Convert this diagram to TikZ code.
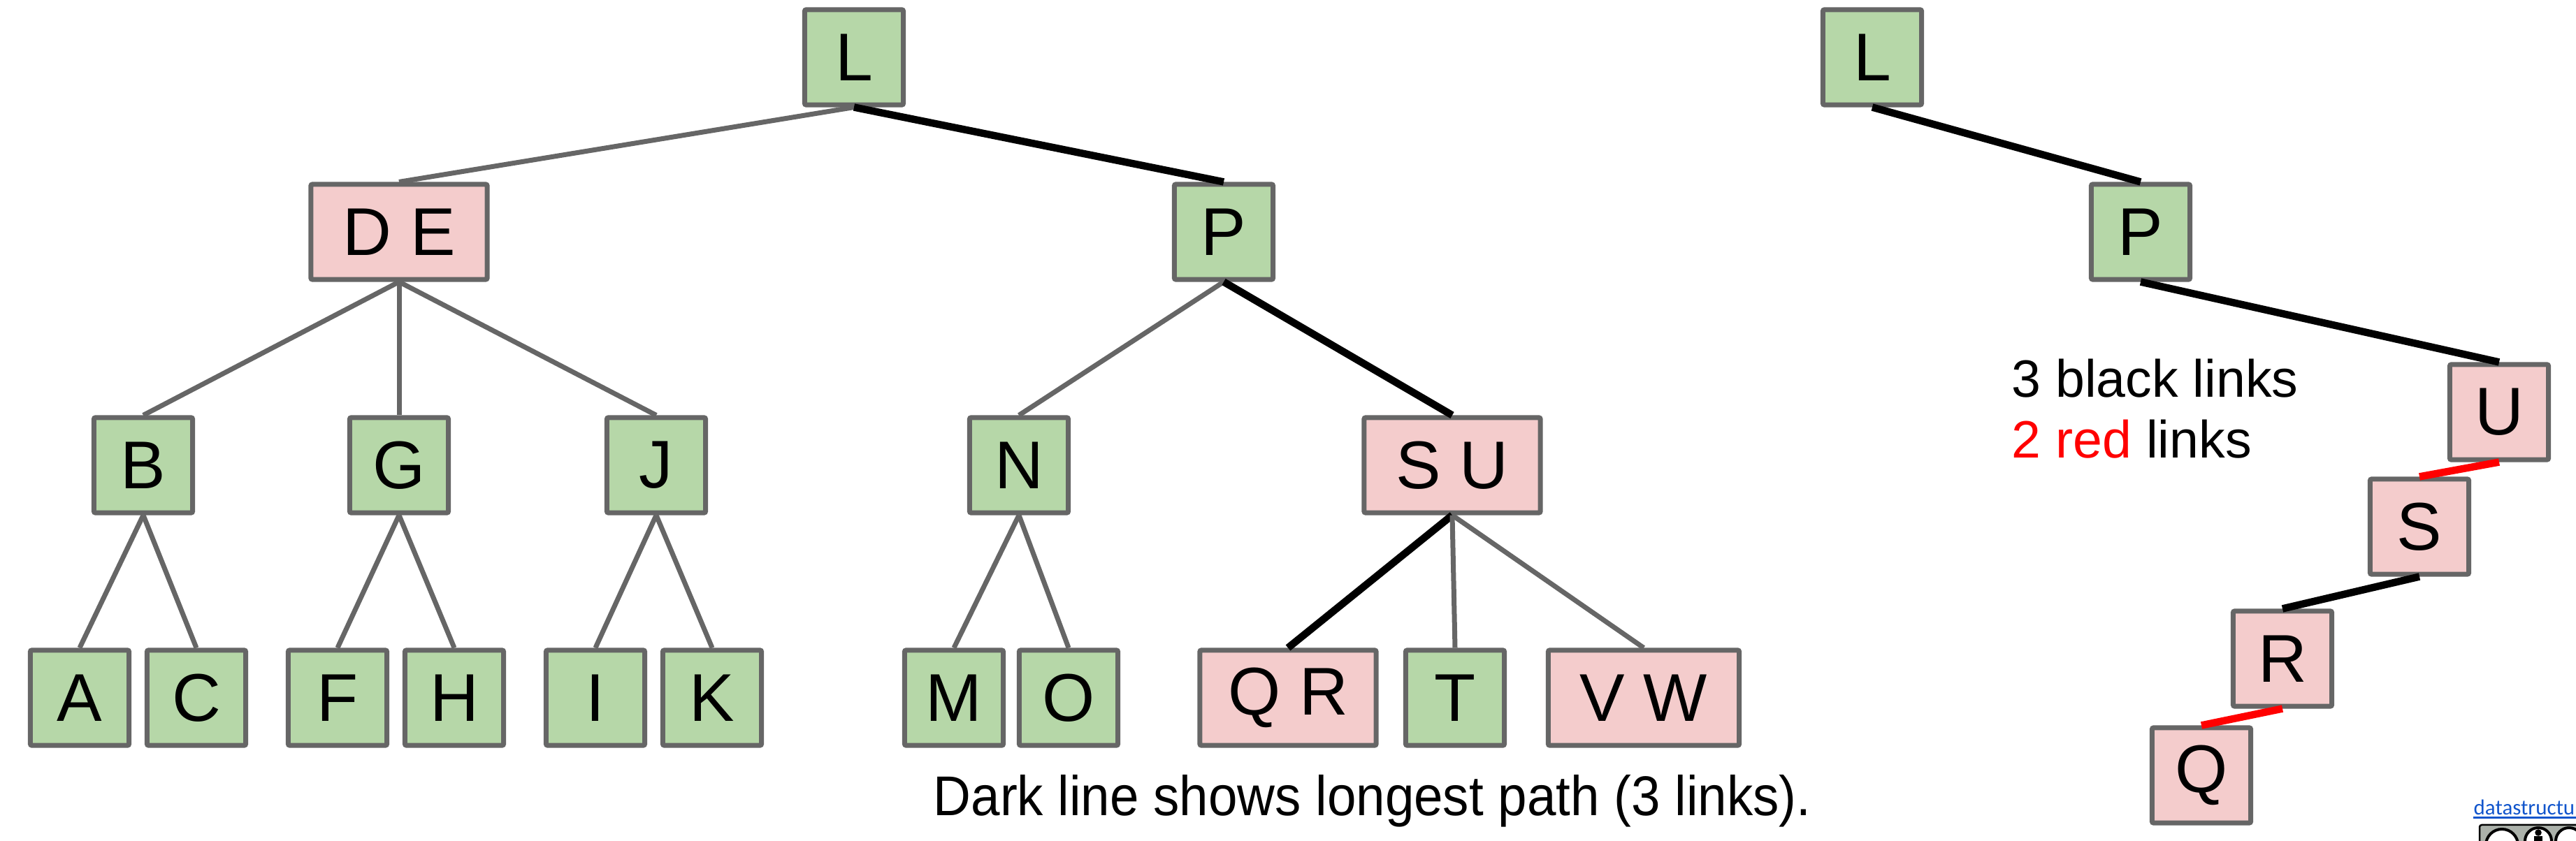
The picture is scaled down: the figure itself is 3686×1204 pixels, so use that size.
\documentclass[tikz,border=0pt]{standalone}
\usepackage{fontspec}
\setmainfont{Liberation Sans}
\newfontfamily\linkfont{Carlito}
\usetikzlibrary{calc}
\definecolor{keygreen}{HTML}{B6D7A8}
\definecolor{keypink}{HTML}{F4CCCC}
\definecolor{edgegray}{HTML}{666666}
\definecolor{linkblue}{HTML}{1155CC}
\definecolor{ccgray}{HTML}{ABB1AA}

\begin{document}
\begin{tikzpicture}[x=0.01cm, y=-0.01cm,
		keybox/.style={draw=edgegray, line width=0.07cm, rounded corners=0.02cm, minimum width=1.41cm, minimum height=1.36cm, inner sep=0pt, font=\fontsize{27.5}{30}\selectfont},
		greenkey/.style={keybox, fill=keygreen},
		pinkkey/.style={keybox, fill=keypink},
		widekey/.style={minimum width=2.52cm},
		grayedge/.style={edgegray, line width=0.07cm},
		darkedge/.style={black, line width=0.105cm},
		rededge/.style={red, line width=0.105cm},
		notetext/.style={anchor=base west, inner sep=0pt, font=\fontsize{21.4}{25}\selectfont}]
		%%%%% START %%%%%
		
		\useasboundingbox (0,0) rectangle (3686,1204);
		\clip (0,0) rectangle (3686,1204);
		
		%%%%% 2-3-4 TREE %%%%%
		\node[greenkey] (L) at (1222, 82) {L};
		
		\node[pinkkey, widekey] (DE) at (571, 332) {D E};
		\node[greenkey] (P) at (1751, 332) {P};
		
		\node[greenkey] (B) at (205, 666) {B};
		\node[greenkey] (G) at (571, 666) {G};
		\node[greenkey] (J) at (939, 666) {J};
		\node[greenkey] (N) at (1458, 666) {N};
		\node[pinkkey, widekey] (SU) at (2078, 666) {S U};
		
		\node[greenkey] (A) at (114, 999) {A};
		\node[greenkey] (C) at (281, 999) {C};
		\node[greenkey] (F) at (483, 999) {F};
		\node[greenkey] (H) at (650, 999) {H};
		\node[greenkey] (I) at (852, 999) {I};
		\node[greenkey] (K) at (1019, 999) {K};
		\node[greenkey] (M) at (1365, 999) {M};
		\node[greenkey] (O) at (1529, 999) {O};
		\node[pinkkey, widekey] (QR) at (1843, 999) {Q R};
		\node[greenkey] (T) at (2082, 999) {T};
		\node[pinkkey, minimum width=2.73cm] (VW) at (2352, 999) {V W};
		
		\draw[grayedge] (L.south) -- (DE.north);
		\draw[darkedge] (L.south) -- (P.north);
		\draw[grayedge] (DE.south) -- (B.north);
		\draw[grayedge] (DE.south) -- (G.north);
		\draw[grayedge] (DE.south) -- (J.north);
		\draw[grayedge] (P.south) -- (N.north);
		\draw[darkedge] (P.south) -- (SU.north);
		\draw[grayedge] (B.south) -- (A.north);
		\draw[grayedge] (B.south) -- (C.north);
		\draw[grayedge] (G.south) -- (F.north);
		\draw[grayedge] (G.south) -- (H.north);
		\draw[grayedge] (J.south) -- (I.north);
		\draw[grayedge] (J.south) -- (K.north);
		\draw[grayedge] (N.south) -- (M.north);
		\draw[grayedge] (N.south) -- (O.north);
		\draw[darkedge] (SU.south) -- (QR.north);
		\draw[grayedge] (SU.south) -- (T.north);
		\draw[grayedge] (SU.south) -- (VW.north);
		
		\node[anchor=base west, inner sep=0pt] (caption) at (1335, 1168) {\scalebox{0.93}[1]{\fontsize{22.8}{26}\selectfont Dark line shows longest path (3 links).}};
		
		%%%%% RED-BLACK TREE %%%%%
		\node[greenkey] (rbL) at (2679, 82) {L};
		\node[greenkey] (rbP) at (3063, 332) {P};
		\node[pinkkey] (rbU) at (3576, 590) {U};
		\node[pinkkey] (rbS) at (3462, 754) {S};
		\node[pinkkey] (rbR) at (3266, 943) {R};
		\node[pinkkey] (rbQ) at (3150, 1110) {Q};
		
		\draw[darkedge] (rbL.south) -- (rbP.north);
		\draw[darkedge] (rbP.south) -- (rbU.north);
		\draw[rededge] (rbU.south) -- (rbS.north);
		\draw[darkedge] (rbS.south) -- (rbR.north);
		\draw[rededge] (rbR.south) -- (rbQ.north);
		
		\node[notetext] (blacknote) at (2878, 569) {3 black links};
		\node[notetext] (rednote) at (2878, 656) {\textcolor{red}{2 red} links};
		
		%%%%% FOOTER %%%%%
		\node[anchor=base west, inner sep=0pt, text=linkblue, font=\linkfont\fontsize{8.8}{10}\selectfont] (site) at (3539, 1167) {datastructur.es};
		\draw[linkblue, line width=0.03cm] ([yshift=-0.04cm]site.base west) -- ([yshift=-0.04cm]site.base east);
		
		\draw[fill=ccgray, line width=0.025cm, rounded corners=0.03cm] (3548, 1181) rectangle (3760, 1290);
		\draw[fill=white, line width=0.04cm] (3580, 1210) circle (23);
		\draw[fill=white, line width=0.04cm] (3632, 1204) circle (19);
		\draw[fill=white, line width=0.04cm] (3676, 1204) circle (19);
		\draw[fill=black] (3632, 1192) circle (4);
		\draw[fill=black] (3627, 1198) rectangle (3637, 1215);
		
		%%%%% END %%%%%
	\end{tikzpicture}
\end{document}
